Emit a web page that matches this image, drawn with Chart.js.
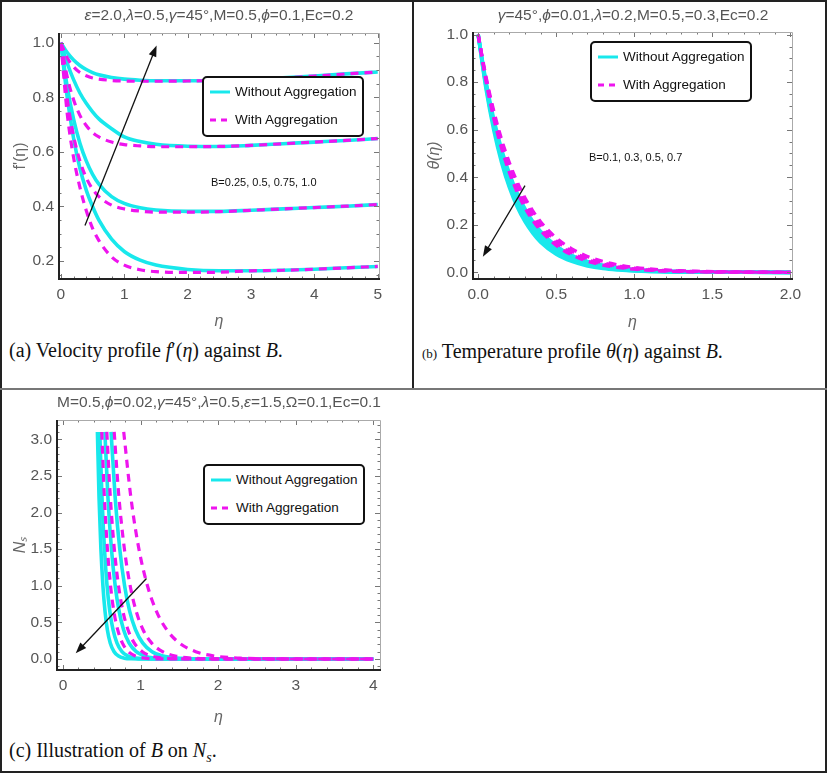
<!DOCTYPE html>
<html>
<head>
<meta charset="utf-8">
<script src="https://cdn.jsdelivr.net/npm/chart.js@4.4.1/dist/chart.umd.min.js"></script>
<style>
  body { margin: 0; background: #fff; }
  #fig { position: relative; width: 827px; height: 773px; overflow: hidden; font-family: "Liberation Sans", Arial, sans-serif; }
  canvas { position: absolute; }
  .rule { position: absolute; z-index: 5; }
  .hdr { position: absolute; font-size: 15.5px; line-height: 18px; color: #555; white-space: nowrap; transform: translateX(-50%); }
  .note { position: absolute; font-size: 11px; line-height: 14px; color: #111; white-space: nowrap; }
  .legend { position: absolute; box-sizing: border-box; width: 162px; height: 61px; border: 2px solid #111; border-radius: 5px; background: #fff; }
  .legend .row { position: absolute; left: 0; height: 18px; width: 158px; }
  .legend svg { position: absolute; left: 5px; top: 0; }
  .legend span { position: absolute; left: 31px; top: 0; line-height: 18px; font-size: 13.5px; color: #111; white-space: nowrap; }
  .cap { position: absolute; font-family: "Liberation Serif", "Times New Roman", serif; font-size: 20px; line-height: 22px; color: #111; white-space: nowrap; }
</style>
</head>
<body>
<div id="fig">
  <canvas id="cA" width="412" height="335" style="left:0;top:0;width:412px;height:335px"></canvas>
  <canvas id="cB" width="413" height="335" style="left:413px;top:0;width:413px;height:335px"></canvas>
  <canvas id="cC" width="412" height="340" style="left:0;top:389px;width:412px;height:340px"></canvas>

  <div class="hdr" style="left:219px;top:6px"><i>ε</i>=2.0,<i>λ</i>=0.5,<i>γ</i>=45°,M=0.5,<i>ϕ</i>=0.1,Ec=0.2</div>
  <div class="hdr" style="left:633px;top:6px"><i>γ</i>=45°,<i>ϕ</i>=0.01,<i>λ</i>=0.2,M=0.5,=0.3,Ec=0.2</div>
  <div class="hdr" style="left:219px;top:393px">M=0.5,<i>ϕ</i>=0.02,<i>γ</i>=45°,<i>λ</i>=0.5,<i>ε</i>=1.5,Ω=0.1,Ec=0.1</div>

  <div class="note" style="left:211px;top:175px">B=0.25, 0.5, 0.75, 1.0</div>
  <div class="note" style="left:589px;top:150px">B=0.1, 0.3, 0.5, 0.7</div>

  <div class="legend" id="legA" style="left:202px;top:76px"></div>
  <div class="legend" id="legB" style="left:590px;top:41px"></div>
  <div class="legend" id="legC" style="left:203px;top:464px"></div>

  <div class="cap" style="left:9px;top:339px">(a) Velocity profile <i>f</i>′(<i>η</i>) against <i>B</i>.</div>
  <div class="cap" style="left:422px;top:340px"><span style="font-size:13px">(b)</span> Temperature profile <i>θ</i>(<i>η</i>) against <i>B</i>.</div>
  <div class="cap" style="left:9px;top:739px">(c) Illustration of <i>B</i> on <i>N<sub style="font-size:14px">s</sub></i>.</div>

  <div class="rule" style="left:0;top:0;width:827px;height:773px;box-sizing:border-box;border:2px solid #222"></div>
  <div class="rule" style="left:412px;top:0;width:2px;height:389px;background:#222"></div>
  <div class="rule" style="left:0;top:388px;width:827px;height:2px;background:#777"></div>
</div>

<script>
// ---- panel (a): velocity f'(eta) for B = 0.25, 0.5, 0.75, 1.0
const etaA = [0, 0.1, 0.2, 0.3, 0.4, 0.5, 0.6, 0.8, 1.0, 1.25, 1.5, 2, 2.5, 3, 3.5, 4, 4.5, 5];
const velNoAggB100 = [1.0, 0.964, 0.937, 0.917, 0.902, 0.891, 0.883, 0.873, 0.867, 0.863, 0.861, 0.861, 0.863, 0.867, 0.872, 0.878, 0.886, 0.893];
const velAggB100   = [1.0, 0.945, 0.912, 0.891, 0.879, 0.871, 0.867, 0.862, 0.860, 0.859, 0.859, 0.860, 0.862, 0.866, 0.871, 0.878, 0.886, 0.893];
const velNoAggB075 = [1.0, 0.925, 0.865, 0.816, 0.778, 0.747, 0.721, 0.685, 0.655, 0.638, 0.628, 0.621, 0.620, 0.624, 0.630, 0.636, 0.642, 0.649];
const velAggB075   = [1.0, 0.875, 0.791, 0.734, 0.697, 0.671, 0.655, 0.636, 0.627, 0.622, 0.619, 0.619, 0.620, 0.624, 0.630, 0.636, 0.642, 0.649];
const velNoAggB050 = [1.0, 0.839, 0.720, 0.632, 0.567, 0.518, 0.482, 0.436, 0.411, 0.395, 0.387, 0.382, 0.382, 0.386, 0.391, 0.396, 0.401, 0.407];
const velAggB050   = [1.0, 0.795, 0.658, 0.567, 0.505, 0.464, 0.436, 0.405, 0.391, 0.383, 0.379, 0.379, 0.381, 0.386, 0.391, 0.396, 0.401, 0.407];
const velNoAggB025 = [1.0, 0.800, 0.650, 0.540, 0.460, 0.400, 0.350, 0.280, 0.235, 0.203, 0.185, 0.169, 0.164, 0.164, 0.166, 0.170, 0.175, 0.180];
const velAggB025   = [1.0, 0.740, 0.580, 0.470, 0.385, 0.320, 0.275, 0.215, 0.185, 0.168, 0.161, 0.158, 0.159, 0.164, 0.166, 0.170, 0.175, 0.180];

// ---- panel (b): temperature theta(eta) for B = 0.1, 0.3, 0.5, 0.7
const etaB = [0, 0.05, 0.1, 0.15, 0.2, 0.25, 0.3, 0.35, 0.4, 0.5, 0.6, 0.7, 0.8, 0.9, 1.0, 1.2, 1.4, 1.7, 2.0];
const thNoAggB01 = [1, 0.803, 0.644, 0.517, 0.415, 0.333, 0.267, 0.214, 0.172, 0.111, 0.071, 0.046, 0.030, 0.019, 0.012, 0.005, 0.002, 0.001, 0];
const thNoAggB03 = [1, 0.793, 0.628, 0.498, 0.395, 0.313, 0.248, 0.196, 0.156, 0.098, 0.061, 0.039, 0.024, 0.015, 0.010, 0.004, 0.0015, 0.0004, 0];
const thNoAggB05 = [1, 0.783, 0.613, 0.480, 0.375, 0.294, 0.230, 0.180, 0.141, 0.086, 0.053, 0.032, 0.020, 0.012, 0.007, 0.003, 0.001, 0.0002, 0];
const thNoAggB07 = [1, 0.773, 0.598, 0.462, 0.357, 0.276, 0.213, 0.165, 0.127, 0.076, 0.046, 0.027, 0.016, 0.010, 0.006, 0.002, 0.0007, 0.0002, 0];
const thAggB01 = [1, 0.825, 0.680, 0.560, 0.462, 0.381, 0.314, 0.259, 0.213, 0.145, 0.099, 0.067, 0.046, 0.031, 0.021, 0.010, 0.005, 0.0015, 0.0005];
const thAggB03 = [1, 0.818, 0.668, 0.546, 0.446, 0.365, 0.298, 0.244, 0.199, 0.133, 0.089, 0.059, 0.040, 0.026, 0.018, 0.008, 0.0035, 0.001, 0.0003];
const thAggB05 = [1, 0.811, 0.657, 0.533, 0.432, 0.350, 0.284, 0.230, 0.187, 0.123, 0.081, 0.053, 0.035, 0.023, 0.015, 0.006, 0.0028, 0.0008, 0.0002];
const thAggB07 = [1, 0.805, 0.647, 0.521, 0.419, 0.337, 0.271, 0.218, 0.176, 0.113, 0.073, 0.047, 0.030, 0.020, 0.013, 0.005, 0.002, 0.0006, 0.0002];

// ---- panel (c): entropy generation Ns, shared levels, per-curve eta positions
const nsLevels = [3.1, 2.2, 1.5, 1.0, 0.65, 0.4, 0.22, 0.1, 0.04, 0.012, 0.003, 0, 0];
const etaNoAgg1 = [0.444, 0.465, 0.489, 0.515, 0.542, 0.572, 0.609, 0.659, 0.716, 0.791, 0.878, 1.1, 4];
const etaNoAgg2 = [0.474, 0.503, 0.535, 0.568, 0.604, 0.645, 0.695, 0.760, 0.837, 0.937, 1.052, 1.3, 4];
const etaNoAgg3 = [0.540, 0.580, 0.625, 0.673, 0.724, 0.781, 0.851, 0.944, 1.052, 1.193, 1.357, 1.65, 4];
const etaNoAgg4 = [0.620, 0.673, 0.732, 0.794, 0.860, 0.935, 1.027, 1.148, 1.289, 1.474, 1.688, 2.0, 4];
const etaAgg1 = [0.500, 0.534, 0.573, 0.613, 0.656, 0.705, 0.765, 0.843, 0.935, 1.055, 1.194, 1.5, 4];
const etaAgg2 = [0.565, 0.611, 0.662, 0.716, 0.773, 0.838, 0.918, 1.023, 1.145, 1.306, 1.490, 1.8, 4];
const etaAgg3 = [0.660, 0.722, 0.792, 0.866, 0.944, 1.032, 1.141, 1.284, 1.451, 1.670, 1.922, 2.3, 4];
const etaAgg4 = [0.783, 0.876, 0.979, 1.089, 1.205, 1.337, 1.498, 1.711, 1.959, 2.284, 2.659, 3.0, 4];

// trend arrows, in data units [eta, value]
const arrowA = { from: [0.38, 0.33], to: [1.51, 0.99] };
const arrowB = { from: [0.30, 0.365], to: [0.03, 0.066] };
const arrowC = { from: [1.076, 1.10], to: [0.164, 0.078] };

const CYAN = 'rgb(24,232,236)';
const MAGENTA = 'rgb(238,20,238)';
const FONT = '"Liberation Sans", Arial, sans-serif';

function curve(xs, ys, dashed) {
    return {
        data: xs.map((x, i) => ({ x: x, y: ys[i] })),
        borderColor: dashed ? MAGENTA : CYAN,
        borderWidth: dashed ? 3.2 : 3.6,
        borderDash: dashed ? [8, 6] : [],
        pointRadius: 0,
        fill: false,
        cubicInterpolationMode: 'monotone',
        order: dashed ? 0 : 1
    };
}

// Mathematica-like frame: dark left/bottom, light top/right, inward ticks on all sides
const framePlugin = {
    id: 'mmaFrame',
    afterDraw(chart, args, opts) {
        const { ctx, chartArea: a, scales } = chart;
        const x = scales.x, y = scales.y;
        ctx.save();
        ctx.strokeStyle = '#777';
        ctx.lineWidth = 1;
        const marks = (scale, minor) => {
            const major = scale.ticks.map(t => t.value);
            const out = major.map(v => [v, 5]);
            let v = Math.ceil(scale.min / minor) * minor;
            for (; v <= scale.max + 1e-9; v += minor) {
                if (!major.some(m => Math.abs(m - v) < minor / 10)) out.push([v, 2.5]);
            }
            return out;
        };
        ctx.beginPath();
        marks(x, opts.xMinor).forEach(([v, len]) => {
            const px = Math.round(x.getPixelForValue(v)) + 0.5;
            ctx.moveTo(px, a.bottom); ctx.lineTo(px, a.bottom - len);
            ctx.moveTo(px, a.top); ctx.lineTo(px, a.top + len);
        });
        marks(y, opts.yMinor).forEach(([v, len]) => {
            const py = Math.round(y.getPixelForValue(v)) + 0.5;
            ctx.moveTo(a.left, py); ctx.lineTo(a.left + len, py);
            ctx.moveTo(a.right, py); ctx.lineTo(a.right - len, py);
        });
        ctx.stroke();
        ctx.strokeStyle = '#aaa';
        ctx.beginPath();
        ctx.moveTo(a.left, a.top + 0.5); ctx.lineTo(a.right + 0.5, a.top + 0.5); ctx.lineTo(a.right + 0.5, a.bottom);
        ctx.stroke();
        ctx.strokeStyle = '#222';
        ctx.lineWidth = 2;
        ctx.beginPath();
        ctx.moveTo(a.left, a.top); ctx.lineTo(a.left, a.bottom); ctx.lineTo(a.right + 1, a.bottom);
        ctx.stroke();
        ctx.restore();
    }
};

const arrowPlugin = {
    id: 'trendArrow',
    afterDatasetsDraw(chart, args, opts) {
        if (!opts || !opts.from) return;
        const { ctx, scales: { x, y } } = chart;
        const x0 = x.getPixelForValue(opts.from[0]), y0 = y.getPixelForValue(opts.from[1]);
        const x1 = x.getPixelForValue(opts.to[0]), y1 = y.getPixelForValue(opts.to[1]);
        const ang = Math.atan2(y1 - y0, x1 - x0);
        const c = Math.cos(ang), s = Math.sin(ang);
        ctx.save();
        ctx.strokeStyle = '#111';
        ctx.fillStyle = '#111';
        ctx.lineWidth = 1.3;
        ctx.beginPath();
        ctx.moveTo(x0, y0);
        ctx.lineTo(x1 - 8 * c, y1 - 8 * s);
        ctx.stroke();
        ctx.beginPath();
        ctx.moveTo(x1, y1);
        ctx.lineTo(x1 - 11 * c + 4 * s, y1 - 11 * s - 4 * c);
        ctx.lineTo(x1 - 11 * c - 4 * s, y1 - 11 * s + 4 * c);
        ctx.closePath();
        ctx.fill();
        ctx.restore();
    }
};

function makePanel(canvasId, p) {
    const tickFont = { family: FONT, size: 15.5 };
    return new Chart(document.getElementById(canvasId), {
        type: 'line',
        data: { datasets: p.datasets },
        options: {
            responsive: false,
            animation: false,
            layout: { padding: { top: p.padTop, right: p.padRight, left: 0, bottom: 0 } },
            plugins: {
                legend: { display: false },
                tooltip: { enabled: false },
                trendArrow: p.arrow,
                mmaFrame: { xMinor: p.xMinor, yMinor: p.yMinor }
            },
            scales: {
                x: {
                    type: 'linear', min: p.xMin, max: p.xMax,
                    grid: { display: false, drawTicks: false },
                    border: { display: false },
                    ticks: {
                        stepSize: p.xStep, includeBounds: false, autoSkip: false, maxRotation: 0,
                        padding: 6, color: '#555', font: tickFont,
                        callback: v => Number(v).toFixed(p.xDec)
                    },
                    title: {
                        display: true, text: 'η', color: '#666',
                        font: { family: FONT, size: 16, style: 'italic' },
                        padding: { top: 0, bottom: p.xTitlePad }
                    },
                    afterFit: s => { s.height = p.xAxisH; }
                },
                y: {
                    type: 'linear', min: p.yMin, max: p.yMax,
                    grid: { display: false, drawTicks: false },
                    border: { display: false },
                    ticks: {
                        stepSize: p.yStep, includeBounds: false, autoSkip: false,
                        padding: 5, color: '#555', font: tickFont,
                        callback: v => Number(v).toFixed(1)
                    },
                    title: {
                        display: true, text: p.yTitle, color: '#666',
                        font: { family: FONT, size: 16, style: p.yItalic ? 'italic' : 'normal' },
                        padding: { top: p.yTitlePad, bottom: 0 }
                    },
                    afterFit: s => { s.width = p.yAxisW; }
                }
            }
        },
        plugins: [framePlugin, arrowPlugin]
    });
}

function legendHtml() {
    return '<div class="row" style="top:5px"><svg width="22" height="18"><line x1="1" y1="9" x2="21" y2="9" stroke="' + CYAN + '" stroke-width="3"/></svg><span>Without Aggregation</span></div>' +
           '<div class="row" style="top:33px"><svg width="22" height="18"><line x1="1" y1="9" x2="21" y2="9" stroke="' + MAGENTA + '" stroke-width="3" stroke-dasharray="6,5"/></svg><span>With Aggregation</span></div>';
}
['legA', 'legB', 'legC'].forEach(id => { document.getElementById(id).innerHTML = legendHtml(); });

makePanel('cA', {
    datasets: [
        curve(etaA, velNoAggB100, false), curve(etaA, velNoAggB075, false),
        curve(etaA, velNoAggB050, false), curve(etaA, velNoAggB025, false),
        curve(etaA, velAggB100, true), curve(etaA, velAggB075, true),
        curve(etaA, velAggB050, true), curve(etaA, velAggB025, true)
    ],
    xMin: -0.03, xMax: 5.02, xStep: 1, xMinor: 0.2, xDec: 0,
    yMin: 0.134, yMax: 1.036, yStep: 0.2, yMinor: 0.05,
    yTitle: "f'(η)", yItalic: false,
    padTop: 33, padRight: 33, yAxisW: 59, xAxisH: 56, xTitlePad: 4, yTitlePad: 11,
    arrow: arrowA
});

makePanel('cB', {
    datasets: [
        curve(etaB, thNoAggB01, false), curve(etaB, thNoAggB03, false),
        curve(etaB, thNoAggB05, false), curve(etaB, thNoAggB07, false),
        curve(etaB, thAggB01, true), curve(etaB, thAggB03, true),
        curve(etaB, thAggB05, true), curve(etaB, thAggB07, true)
    ],
    xMin: -0.033, xMax: 2.01, xStep: 0.5, xMinor: 0.1, xDec: 1,
    yMin: -0.028, yMax: 1.011, yStep: 0.2, yMinor: 0.05,
    yTitle: 'θ(η)', yItalic: true,
    padTop: 32, padRight: 34, yAxisW: 60, xAxisH: 56, xTitlePad: 3, yTitlePad: 12,
    arrow: arrowB
});

makePanel('cC', {
    datasets: [
        curve(etaNoAgg1, nsLevels, false), curve(etaNoAgg2, nsLevels, false),
        curve(etaNoAgg3, nsLevels, false), curve(etaNoAgg4, nsLevels, false),
        curve(etaAgg1, nsLevels, true), curve(etaAgg2, nsLevels, true),
        curve(etaAgg3, nsLevels, true), curve(etaAgg4, nsLevels, true)
    ],
    xMin: -0.077, xMax: 4.086, xStep: 1, xMinor: 0.2, xDec: 0,
    yMin: -0.15, yMax: 3.263, yStep: 0.5, yMinor: 0.1,
    yTitle: 'Nₛ', yItalic: true,
    padTop: 31, padRight: 32, yAxisW: 57, xAxisH: 59, xTitlePad: 2, yTitlePad: 11,
    arrow: arrowC
});
</script>
</body>
</html>
